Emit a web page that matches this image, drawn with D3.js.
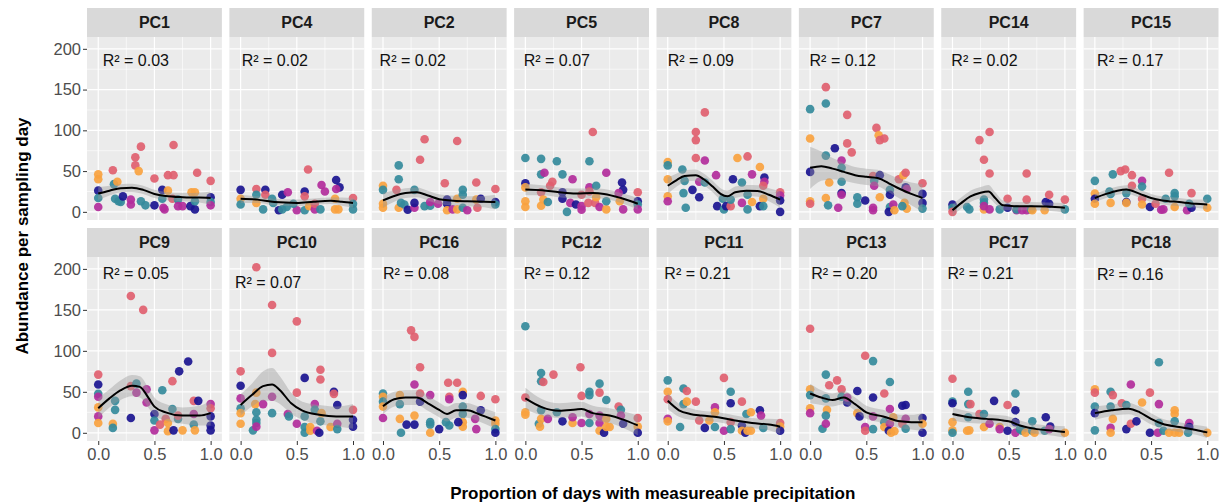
<!DOCTYPE html>
<html>
<head>
<meta charset="utf-8">
<script src="https://cdn.jsdelivr.net/npm/d3@7"></script>
<style>
  body { margin: 0; background: #fff; }
  svg { display: block; font-family: "Liberation Sans", Arial, sans-serif; }
</style>
</head>
<body>
<svg id="chart" width="1220" height="502"></svg>
<script>
// facet order, row by row
const panelNames = ['PC1', 'PC4', 'PC2', 'PC5', 'PC8', 'PC7', 'PC14', 'PC15',
                    'PC9', 'PC10', 'PC16', 'PC12', 'PC11', 'PC13', 'PC17', 'PC18'];
const r2Values = ['0.03', '0.02', '0.02', '0.07', '0.09', '0.12', '0.02', '0.17',
                  '0.05', '0.07', '0.08', '0.12', '0.21', '0.20', '0.21', '0.16'];
// where the R² label sits, in data units
const labelX = [0.04, 0.01, -0.03, -0.015, 0, -0.005, -0.01, 0.02,
                0.04, -0.05, 0, -0.015, -0.03, 0.01, -0.045, 0.02];
const labelY = [186, 186, 186, 186, 186, 186, 186, 186,
                195, 184, 195, 195, 195, 195, 195, 193];

const yTicks = [0, 50, 100, 150, 200];
const xTicks = [0, 0.5, 1];
// 0 navy, 1 teal, 2 magenta, 3 coral, 4 orange
const groupColors = ['#1a1490', '#348a9b', '#b22d9b', '#e0606f', '#f9a23f'];

// points: [x, y, group]
const pc1Points = [[0,46,4],[0,40,4],[0,26,0],[0,17,1],[0,6,2],[0.13,51,3],[0.14,34,1],[0.17,37,4],[0.15,16,1],[0.18,13,1],[0.2,12,1],[0.22,19,0],
  [0.29,15,2],[0.29,9,2],[0.33,67,3],[0.38,80,3],[0.33,57,3],[0.36,50,4],[0.38,13,1],[0.42,8,1],[0.5,41,3],[0.5,8,0],[0.57,27,0],[0.57,16,1],
  [0.58,5,2],[0.59,3,2],[0.62,26,4],[0.62,45,3],[0.67,82,3],[0.67,45,3],[0.66,16,3],[0.71,15,1],[0.71,7,2],[0.75,7,2],[0.82,7,0],[0.86,3,0],
  [0.88,48,3],[0.83,24,4],[0.86,24,4],[0.86,13,1],[1,38,3],[1,18,0],[1,12,1],[1,8,2]];
const pc4Points = [[0,27,0],[0,16,4],[0,9,1],[0.14,28,3],[0.14,21,1],[0.14,11,4],[0.2,3,1],[0.22,27,0],[0.22,21,3],[0.28,16,1],[0.29,11,1],
  [0.34,2,0],[0.37,21,0],[0.37,3,1],[0.42,24,2],[0.41,6,1],[0.5,2,2],[0.47,10,1],[0.57,25,0],[0.57,19,3],[0.57,2,1],[0.6,52,3],[0.61,7,4],
  [0.66,3,2],[0.66,10,3],[0.71,3,1],[0.72,33,2],[0.75,25,2],[0.84,16,4],[0.85,39,0],[0.88,30,0],[0.85,28,2],[0.84,3,4],[0.87,3,4],
  [1,17,3],[1,10,1],[1,3,1]];
const pc2Points = [[0,32,4],[0,27,1],[0,10,4],[0,5,4],[0.14,57,1],[0.14,40,1],[0.12,27,3],[0.14,5,4],[0.16,11,1],[0.19,9,1],[0.22,2.5,0],
  [0.28,5,2],[0.28,27,1],[0.28,11,0],[0.33,64,3],[0.37,89,3],[0.37,7,1],[0.42,7.5,1],[0.42,12,2],[0.49,10,2],[0.55,35,3],[0.57,15,0],
  [0.57,10,0],[0.57,2,4],[0.62,3,2],[0.66,87,3],[0.66,16,4],[0.66,3,4],[0.71,27,1],[0.71,21,1],[0.71,5,1],[0.75,2,2],[0.83,36,3],
  [0.83,15,4],[0.84,5,3],[0.87,16,0],[1,28,3],[1,12,0],[1,9,1]];
const pc5Points = [[0,66,1],[0,35,0],[0,30,4],[0,13,4],[0,6,4],[0.14,65,1],[0.14,46,1],[0.17,48,2],[0.14,24,3],[0.16,15,4],[0.14,7.5,4],
  [0.2,12,1],[0.24,37,3],[0.22,32,3],[0.28,62,1],[0.33,46,1],[0.33,24,0],[0.33,16,0],[0.42,40,2],[0.4,11,2],[0.37,0,1],[0.45,9,0],
  [0.5,7,2],[0.5,2.5,2],[0.5,21,3],[0.57,62,1],[0.6,98,3],[0.57,30,2],[0.57,25,3],[0.63,32,1],[0.56,11,3],[0.62,11,3],[0.63,18,4],
  [0.66,6,2],[0.72,48,2],[0.72,3,4],[0.72,13,1],[0.86,36,0],[0.87,27,0],[0.83,23,2],[0.84,13,4],[0.87,3,2],[1,24,3],[1,13,0],[1,9,1],[1,3,2]];
const pc8Points = [[0,61,4],[0,57,1],[0,40,4],[0,19,4],[0,13,2],[0.13,52,1],[0.15,38,1],[0.14,23,1],[0.16,5,1],[0.22,27,0],[0.25,98,3],
  [0.25,88,3],[0.25,66,3],[0.33,122,3],[0.33,63,2],[0.28,18,0],[0.28,37,2],[0.33,36,1],[0.43,45,2],[0.44,7,0],[0.49,16,1],[0.5,3,1],
  [0.52,7,0],[0.56,7,3],[0.56,15,1],[0.58,40,0],[0.62,66,4],[0.66,36,1],[0.66,11,2],[0.71,68,3],[0.71,21,1],[0.71,3,1],[0.75,12,4],
  [0.75,46,2],[0.82,55,4],[0.82,7,0],[0.86,42,0],[0.86,37,2],[0.85,32,3],[0.85,16,4],[0.85,7,1],[1,24,3],[1,20,2],[1,14,0],[1,0,0]];
const pc7Points = [[0,126,1],[0,90,4],[0,49,0],[0,13,4],[0,10,3],[0.14,153,3],[0.14,133,1],[0.14,17,4],[0.16,8,1],[0.22,78,0],[0.14,69,1],
  [0.17,36,4],[0.25,5,2],[0.28,63,2],[0.28,54,1],[0.28,37,1],[0.28,23,0],[0.28,21,2],[0.33,119,3],[0.33,84,3],[0.37,73,3],[0.42,18,1],
  [0.42,10,1],[0.49,14,0],[0.56,5,2],[0.56,2,2],[0.59,103,3],[0.61,94,4],[0.62,88,3],[0.66,90,3],[0.56,44,3],[0.57,38,1],[0.57,32,2],
  [0.62,45,0],[0.62,18,4],[0.71,27,1],[0.71,21,0],[0.71,6,1],[0.7,0,0],[0.74,9,2],[0.75,2,4],[0.79,40,3],[0.83,45,4],[0.85,48,3],
  [0.85,30,0],[0.86,28,2],[0.84,11,4],[0.86,4,4],[0.82,7,1],[1,35,3],[1,22,0],[1,11,0],[1,4,1]];
const pc14Points = [[0,9,0],[0,5,1],[0,0,3],[0.13,6,1],[0.15,3,1],[0.24,88,3],[0.28,64,3],[0.33,98,3],[0.33,47,3],[0.28,15,1],[0.28,11,1],
  [0.28,3,4],[0.28,7,2],[0.33,3,2],[0.42,3,1],[0.49,16,3],[0.49,5,0],[0.57,2,2],[0.57,3,1],[0.66,47,3],[0.66,15,3],[0.62,2,2],[0.66,2,2],
  [0.7,3,1],[0.71,2,4],[0.82,2,4],[0.83,12,0],[0.86,21,3],[0.86,10,0],[1,15,3],[1,3,1]];
const pc15Points = [[0,38,1],[0,22.5,4],[0,16,0],[0,10,4],[0.13,25,1],[0.14,22,1],[0.14,11,4],[0.16,46,1],[0.23,50,3],[0.27,52,3],
  [0.28,23,1],[0.28,12,0],[0.28,11,4],[0.33,45,3],[0.33,32,3],[0.42,38,2],[0.42,31,1],[0.42,16,3],[0.42,9,4],[0.49,6,0],[0.54,10,3],
  [0.59,2.5,2],[0.61,3,2],[0.66,48,3],[0.63,16,1],[0.71,23,1],[0.71,19,1],[0.71,6,4],[0.82,2,2],[0.86,23,3],[0.86,5,0],[0.84,10,1],
  [1,16,1],[1,5,4]];
const pc9Points = [[0,71,3],[0,59,0],[0,47.5,1],[0,44,2],[0,31,4],[0,20,2],[0,12,4],[0.13,11,4],[0.13,6,1],[0.15,39,1],[0.15,28,1],
  [0.29,167,3],[0.29,18,0],[0.29,57,3],[0.4,150,3],[0.34,60,1],[0.34,49,2],[0.43,53,2],[0.43,37,2],[0.5,23,0],[0.5,15,1],[0.5,3,2],
  [0.55,10,3],[0.57,52,1],[0.6,17,3],[0.62,12,4],[0.62,2,4],[0.66,63,3],[0.66,29,1],[0.67,3,0],[0.72,75,0],[0.71,17,1],[0.71,21,3],
  [0.75,3,4],[0.8,87,0],[0.85,39,3],[0.89,39,0],[0.85,23,2],[0.85,10,1],[0.86,3,4],[1,35,2],[1,30,3],[1,20,0],[1,9,0],[1,3,0]];
const pc10Points = [[0,75,3],[0,57.5,0],[0,42,2],[0,30,1],[0,24,4],[0,11,4],[0.14,202,3],[0.14,49,4],[0.13,35,4],[0.14,25,1],[0.14,16,1],
  [0.14,12,1],[0.11,3,1],[0.14,7.5,2],[0.2,35,2],[0.28,156,3],[0.28,97.5,3],[0.28,44,2],[0.28,24,1],[0.42,23,2],[0.43,20,1],[0.5,136,3],
  [0.5,49,3],[0.5,11,2],[0.57,67,0],[0.57,20,1],[0.57,7,1],[0.57,0,1],[0.62,7,4],[0.62,2.5,4],[0.66,35,2],[0.66,28,1],[0.68,2.5,2],
  [0.7,0,0],[0.71,77,3],[0.71,65,3],[0.71,14,1],[0.72,24,4],[0.8,7,4],[0.83,50,0],[0.83,47.5,3],[0.86,34,0],[0.86,11,2],[0.86,4.5,1],
  [1,28,3],[1,16,0],[1,7.5,0]];
const pc16Points = [[0,48,1],[0,44,4],[0,38,1],[0,32,4],[0,18,2],[0.15,46,4],[0.15,35,1],[0.15,17,4],[0.16,0,1],[0.21,10,0],[0.25,125,3],
  [0.28,117,3],[0.28,59,2],[0.28,21,4],[0.28,10,0],[0.33,80,3],[0.33,48,3],[0.33,38,0],[0.42,46,2],[0.42,13,1],[0.42,10,1],[0.42,0,4],
  [0.5,4.5,0],[0.58,61,3],[0.59,44,3],[0.59,41,2],[0.56,13,1],[0.59,9,1],[0.66,61,3],[0.71,50,4],[0.71,46,0],[0.71,32,1],[0.71,23,1],
  [0.71,13,4],[0.71,7.5,4],[0.67,13,0],[0.82,17,2],[0.83,4.5,2],[0.87,45,3],[0.87,27.5,0],[1,41,3],[1,15,4],[1,11,4],[1,4.5,1],[1,0,0]];
const pc12Points = [[0,130,1],[0,43,3],[0,25,4],[0,22,4],[0.12,11,1],[0.14,73,1],[0.14,63,1],[0.16,62,3],[0.14,27.5,1],[0.14,17,4],
  [0.13,7.5,4],[0.2,17,2],[0.25,71,3],[0.28,25,1],[0.33,14,0],[0.42,12,4],[0.42,19,2],[0.49,80,3],[0.5,45,3],[0.5,12,2],[0.57,50,1],
  [0.57,46,1],[0.57,23,2],[0.57,12,1],[0.66,60,1],[0.66,49,3],[0.66,21,2],[0.66,12,2],[0.66,2.5,4],[0.7,0,0],[0.72,40,1],[0.72,17,4],
  [0.72,7,4],[0.75,7,4],[0.83,32,3],[0.85,28,1],[0.85,21,2],[0.87,11,0],[1,18,3],[1,7.5,4],[1,0,0]];
const pc11Points = [[0,64,1],[0,50,4],[0,41,3],[0,17,2],[0,14,4],[0.11,7,1],[0.14,54,1],[0.17,51,3],[0.14,35,1],[0.17,38,4],[0.25,38,3],
  [0.28,15,3],[0.33,6,0],[0.37,15,4],[0.42,31,2],[0.42,25,4],[0.42,7,1],[0.5,67,3],[0.5,2.5,2],[0.56,50,1],[0.56,36,0],[0.56,13,3],
  [0.56,4.5,1],[0.66,38,3],[0.66,9,0],[0.66,2.5,4],[0.69,0,0],[0.7,23,1],[0.71,2.5,4],[0.74,2.5,4],[0.74,25,4],[0.82,27.5,0],[0.83,21,2],
  [0.85,6,1],[1,12,3],[1,7.5,4],[1,2.5,0]];
const pc13Points = [[0,127,3],[0,53,4],[0,46,1],[0,30,4],[0,24,2],[0.11,5,1],[0.14,71,1],[0.17,58,3],[0.14,42,1],[0.15,28,4],[0.14,21,1],
  [0.14,11,2],[0.24,64,3],[0.28,53,3],[0.28,44,1],[0.33,37,0],[0.33,43,2],[0.42,51,0],[0.42,24,4],[0.44,20,0],[0.49,94,3],[0.49,7,2],
  [0.49,2.5,3],[0.56,87.5,1],[0.56,43,0],[0.56,20,2],[0.56,4.5,1],[0.66,48,3],[0.66,13,1],[0.66,7,4],[0.71,62,1],[0.71,29,2],[0.71,11,2],
  [0.7,2.5,0],[0.72,0,4],[0.75,2,4],[0.74,19,4],[0.82,33,0],[0.85,34,0],[0.82,11,3],[0.85,17,2],[0.85,5,1],[1,18,0],[1,11,4],[1,0,0]];
const pc17Points = [[0,66,3],[0,38,1],[0,36,0],[0,13,4],[0,3,4],[0,0,1],[0.14,50,1],[0.14,35,1],[0.16,35,3],[0.14,19,1],[0.13,2.5,4],
  [0.15,3,4],[0.24,23,3],[0.28,23,1],[0.28,7,4],[0.33,11,2],[0.37,39,0],[0.42,7,4],[0.42,4.5,2],[0.49,34,3],[0.49,2.5,0],[0.56,48,1],
  [0.56,27.5,0],[0.56,13,0],[0.56,0,2],[0.6,4.5,1],[0.62,2.5,1],[0.65,0,4],[0.71,14,1],[0.71,2.5,1],[0.73,0,4],[0.82,2.5,1],[0.83,19,0],
  [0.87,7.5,0],[0.86,4.5,2],[1,0,4]];
const pc18Points = [[0,53,4],[0,49,3],[0,32,1],[0,24,0],[0,3,1],[0.14,50,1],[0.16,46,3],[0.14,32,1],[0.16,17,4],[0.14,6,2],[0.14,0,4],
  [0.24,36,3],[0.28,34,1],[0.28,4.5,0],[0.32,11,3],[0.37,14,0],[0.32,59,2],[0.42,37,4],[0.49,49,3],[0.49,0,0],[0.57,86,1],[0.57,35,2],
  [0.57,12,1],[0.56,0,2],[0.61,2.5,1],[0.66,0,4],[0.71,27.5,4],[0.71,23,4],[0.71,14,1],[0.71,0,4],[0.75,0,4],[0.83,7.5,2],[0.84,12,2],
  [0.84,7,0],[0.83,0,1],[1,0,4]];

// loess fit: [x, fit, half-width of the band]
const pc1Smooth = [[0,22.5,8],[0.1,26,6],[0.2,29,5],[0.3,29.5,5],[0.4,27,5],[0.5,22,5],[0.6,19.5,5],[0.75,18,5],[0.9,17.5,6],[1,17,8]];
const pc4Smooth = [[0,16,5],[0.15,15,4],[0.3,12,4],[0.5,11,4],[0.65,12.5,4],[0.8,13.5,4],[0.9,12.5,5],[1,11,6]];
const pc2Smooth = [[0,14,9],[0.1,19.5,7],[0.2,23,6],[0.3,24,6],[0.4,20,6],[0.5,15.5,6],[0.6,14,6],[0.75,13,6],[0.9,12.5,7],[1,12,9]];
const pc5Smooth = [[0,27.5,7],[0.15,26.5,6],[0.3,24,6],[0.45,22.5,6],[0.6,23,6],[0.7,22,6],[0.85,17,6],[1,10,7]];
const pc8Smooth = [[0,32,10],[0.08,39,8],[0.15,44,7],[0.25,45,7],[0.32,40,7],[0.4,31,7],[0.47,22,7],[0.53,19,7],[0.6,24,7],[0.7,26,7],
  [0.8,25.5,7],[0.9,21,8],[1,15,10]];
const pc7Smooth = [[0,54,26],[0.1,56,18],[0.2,53,13],[0.3,49,11],[0.4,45,10],[0.5,43,10],[0.6,41.5,10],[0.7,35,11],[0.8,28,12],[0.9,22,14],[1,17,17]];
const pc14Smooth = [[0,2,7],[0.08,11,7],[0.16,19,7],[0.25,23.5,7],[0.32,25,8],[0.38,17,7],[0.45,8,6],[0.55,7,5],[0.7,7,5],[0.85,6.5,5],[1,5,6]];
const pc15Smooth = [[0,17,5],[0.1,22,5],[0.2,26,5],[0.28,27.5,5],[0.4,22,5],[0.5,17,5],[0.6,14,5],[0.75,12,5],[0.9,10,5],[1,9,6]];
const pc9Smooth = [[0,30,12],[0.1,42,11],[0.2,52,12],[0.3,57.5,13],[0.37,56,13],[0.45,42,12],[0.5,32,11],[0.6,25,10],[0.75,21,10],[0.9,21,12],[1,24,15]];
const pc10Smooth = [[0,34,13],[0.1,46,14],[0.2,57,18],[0.28,59,20],[0.35,52,17],[0.45,36,13],[0.55,27,11],[0.7,22,12],[0.85,20,12],[1,20,15]];
const pc16Smooth = [[0,32.5,10],[0.1,41,9],[0.2,43,9],[0.3,43,9],[0.4,36,9],[0.5,28,9],[0.57,23,9],[0.65,27.5,9],[0.75,27.5,9],[0.85,23,9],[1,15,10]];
const pc12Smooth = [[0,42,13],[0.15,31,10],[0.3,27,9],[0.45,28.5,9],[0.5,29,9],[0.6,24,9],[0.75,21,9],[0.85,17,10],[1,9,12]];
const pc11Smooth = [[0,39,10],[0.1,27.5,8],[0.2,23,7],[0.3,21,6],[0.45,19,6],[0.6,15,6],[0.75,12,6],[0.9,10,7],[1,7.5,9]];
const pc13Smooth = [[0,48,12],[0.1,43,9],[0.2,40,8],[0.3,43,8],[0.4,35,8],[0.5,25,8],[0.65,20,8],[0.8,14,8],[0.9,13,9],[1,13,11]];
const pc17Smooth = [[0,23,8],[0.15,19,7],[0.3,17,6],[0.45,15,6],[0.5,14,6],[0.6,9,6],[0.75,4.5,6],[0.9,2.5,6],[1,1,7]];
const pc18Smooth = [[0,24,8],[0.15,27.5,7],[0.3,29.5,7],[0.4,25,7],[0.5,17,7],[0.6,11,6],[0.75,7,6],[0.9,3.5,6],[1,0.5,7]];

const pointsByPanel = [pc1Points, pc4Points, pc2Points, pc5Points, pc8Points, pc7Points, pc14Points, pc15Points,
  pc9Points, pc10Points, pc16Points, pc12Points, pc11Points, pc13Points, pc17Points, pc18Points];
const smoothByPanel = [pc1Smooth, pc4Smooth, pc2Smooth, pc5Smooth, pc8Smooth, pc7Smooth, pc14Smooth, pc15Smooth,
  pc9Smooth, pc10Smooth, pc16Smooth, pc12Smooth, pc11Smooth, pc13Smooth, pc17Smooth, pc18Smooth];

// layout
const plotLeft = 87, plotRight = 1218.5, colGap = 7.5, nCols = 8;
const panelW = (plotRight - plotLeft - colGap * (nCols - 1)) / nCols;
const rows = [
  { stripTop: 8, top: 37, bottom: 220 },
  { stripTop: 228, top: 257, bottom: 441 }
];
const fontFamily = '"Liberation Sans", Arial, sans-serif';

const svg = d3.select('#chart');
svg.append('rect').attr('width', 1220).attr('height', 502).attr('fill', '#fff');

const line = d3.line().curve(d3.curveMonotoneX);
const area = d3.area().curve(d3.curveMonotoneX);

panelNames.forEach((name, i) => {
  const row = rows[Math.floor(i / nCols)];
  const col = i % nCols;
  const left = plotLeft + col * (panelW + colGap);

  const xScale = d3.scaleLinear().domain([-0.1, 1.1]).range([left, left + panelW]);
  const yScale = d3.scaleLinear().domain([-10, 214.5]).range([row.bottom, row.top]);

  const g = svg.append('g').attr('class', 'panel');

  // strip
  g.append('rect')
    .attr('x', left).attr('y', row.stripTop)
    .attr('width', panelW).attr('height', row.top - row.stripTop)
    .attr('fill', '#d9d9d9');
  g.append('text')
    .attr('x', left + panelW / 2)
    .attr('y', (row.stripTop + row.top) / 2)
    .attr('dy', '0.36em')
    .attr('text-anchor', 'middle')
    .attr('font-size', 16).attr('font-weight', 'bold')
    .attr('fill', '#1a1a1a')
    .text(name);

  // panel background + grid
  g.append('rect')
    .attr('x', left).attr('y', row.top)
    .attr('width', panelW).attr('height', row.bottom - row.top)
    .attr('fill', '#ebebeb');

  const minorY = [25, 75, 125, 175];
  const minorX = [0.25, 0.75];
  g.selectAll('.gy-minor').data(minorY).join('line')
    .attr('x1', left).attr('x2', left + panelW)
    .attr('y1', d => yScale(d)).attr('y2', d => yScale(d))
    .attr('stroke', '#fff').attr('stroke-width', 0.6);
  g.selectAll('.gx-minor').data(minorX).join('line')
    .attr('y1', row.top).attr('y2', row.bottom)
    .attr('x1', d => xScale(d)).attr('x2', d => xScale(d))
    .attr('stroke', '#fff').attr('stroke-width', 0.6);
  g.selectAll('.gy').data(yTicks).join('line')
    .attr('x1', left).attr('x2', left + panelW)
    .attr('y1', d => yScale(d)).attr('y2', d => yScale(d))
    .attr('stroke', '#fff').attr('stroke-width', 1.2);
  g.selectAll('.gx').data(xTicks).join('line')
    .attr('y1', row.top).attr('y2', row.bottom)
    .attr('x1', d => xScale(d)).attr('x2', d => xScale(d))
    .attr('stroke', '#fff').attr('stroke-width', 1.2);

  // points
  g.append('g').selectAll('circle')
    .data(pointsByPanel[i])
    .join('circle')
    .attr('cx', d => xScale(d[0]))
    .attr('cy', d => yScale(d[1]))
    .attr('r', 4.3)
    .attr('fill', d => groupColors[d[2]])
    .attr('fill-opacity', 0.92);

  // smooth band and line
  const sm = smoothByPanel[i];
  g.append('path')
    .attr('d', area.x(d => xScale(d[0])).y0(d => yScale(d[1] - d[2])).y1(d => yScale(d[1] + d[2]))(sm))
    .attr('fill', '#999').attr('fill-opacity', 0.4);
  g.append('path')
    .attr('d', line.x(d => xScale(d[0])).y(d => yScale(d[1]))(sm))
    .attr('fill', 'none').attr('stroke', '#000').attr('stroke-width', 2);

  // R² label
  g.append('text')
    .attr('x', xScale(labelX[i]))
    .attr('y', yScale(labelY[i]))
    .attr('dy', '0.36em')
    .attr('font-size', 16)
    .attr('fill', '#111')
    .text(`R² = ${r2Values[i]}`);

  // y axis on the first column
  if (col === 0) {
    const ax = svg.append('g')
      .attr('transform', `translate(${left},0)`)
      .call(d3.axisLeft(yScale).tickValues(yTicks).tickSize(4).tickPadding(2));
    ax.select('.domain').remove();
    ax.selectAll('line').attr('stroke', '#333');
    ax.selectAll('text').attr('font-size', 16.5).attr('fill', '#4d4d4d')
      .attr('font-family', fontFamily);
  }
  // x axis on the bottom row
  if (row === rows[1]) {
    const ax = svg.append('g')
      .attr('transform', `translate(0,${row.bottom})`)
      .call(d3.axisBottom(xScale).tickValues(xTicks).tickFormat(d3.format('.1f')).tickSize(4).tickPadding(3));
    ax.select('.domain').remove();
    ax.selectAll('line').attr('stroke', '#333');
    ax.selectAll('text').attr('font-size', 16.5).attr('fill', '#4d4d4d')
      .attr('font-family', fontFamily);
  }
});

// axis titles
svg.append('text')
  .attr('transform', `translate(22,236) rotate(-90)`)
  .attr('text-anchor', 'middle')
  .attr('dy', '0.36em')
  .attr('font-size', 17).attr('font-weight', 'bold')
  .attr('fill', '#000')
  .text('Abundance per sampling day');

svg.append('text')
  .attr('x', (plotLeft + plotRight) / 2)
  .attr('y', 493)
  .attr('text-anchor', 'middle')
  .attr('dy', '0.36em')
  .attr('font-size', 17).attr('font-weight', 'bold')
  .attr('fill', '#000')
  .text('Proportion of days with measureable precipitation');
</script>
</body>
</html>
